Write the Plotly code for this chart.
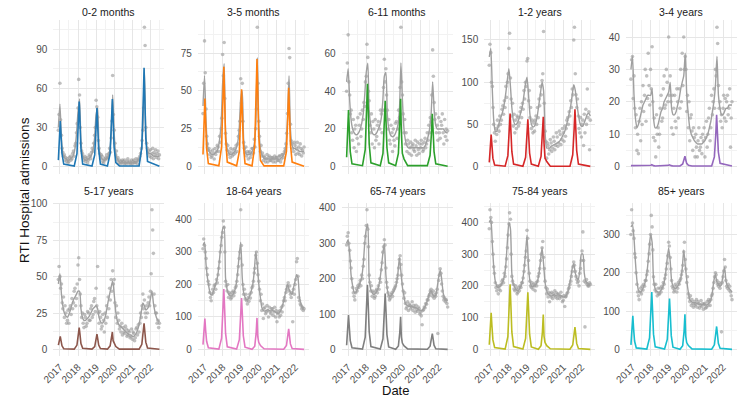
import pandas as pd
import plotly.graph_objects as go

PANELS = ["0-2 months", "3-5 months", "6-11 months", "1-2 years", "3-4 years",
          "5-17 years", "18-64 years", "65-74 years", "75-84 years", "85+ years"]
COLORS = ["#1f77b4", "#ff7f0e", "#2ca02c", "#d62728", "#9467bd",
          "#8c564b", "#e377c2", "#7f7f7f", "#bcbd22", "#17becf"]
YTICKS = [[0, 30, 60, 90], [0, 25, 50, 75], [0, 20, 40, 60], [0, 50, 100, 150], [0, 10, 20, 30, 40],
          [0, 25, 50, 75, 100], [0, 100, 200, 300, 400], [0, 100, 200, 300, 400],
          [0, 100, 200, 300, 400], [0, 100, 200, 300]]
YEAR_TICKS = ["2017-01-01", "2018-01-01", "2019-01-01", "2020-01-01", "2021-01-01", "2022-01-01"]
YEAR_LABELS = ["2017", "2018", "2019", "2020", "2021", "2022"]

# time grids
LINE_DATES = list(pd.date_range("2016-12-01", "2022-07-01", freq="MS"))          # monthly fit
OBS_DATES = sorted(LINE_DATES + [d + pd.Timedelta(days=14) for d in LINE_DATES[:-1]])  # twice-monthly obs
RSV_DATES = ["2016-12-01", "2016-12-22", "2017-01-08", "2017-01-23", "2017-02-12", "2017-03-19",
             "2017-10-17", "2017-12-11", "2018-01-08", "2018-01-25", "2018-02-09", "2018-03-01", "2018-04-05",
             "2018-10-10", "2018-12-04", "2019-01-01", "2019-01-18", "2019-02-02", "2019-02-22", "2019-03-29",
             "2019-08-17", "2019-10-11", "2019-11-08", "2019-11-25", "2019-12-10", "2019-12-30", "2020-02-03", "2020-04-15",
             "2021-05-17", "2021-07-11", "2021-08-08", "2021-08-25", "2021-09-09", "2021-09-29", "2021-11-03",
             "2022-07-01"]

# ---- 0-2 months
obs_0_2m = [28,40, 64,36, 24,14, 11,8, 9,5, 7,4, 6,3, 4,7, 8,5, 6,10, 12,8, 16,18, 26,33,
            45,67, 55,30, 18,12, 10,7, 5,8, 4,6, 7,3, 5,9, 8,6, 11,14, 12,18, 24,30,
            51,46, 38,20, 14,10, 6,9, 8,4, 3,6, 5,7, 9,6, 7,10, 14,11, 22,35, 70,40,
            28,18, 9,12, 5,7, 3,5, 2,4, 3,5, 4,2, 5,3, 2,4, 6,3, 4,2, 3,5,
            2,4, 5,3, 3,6, 4,2, 6,5, 8,10, 14,20, 28,45, 107,93, 30,18, 14,10, 12,8,
            13,7, 10,14, 6,11, 9,13, 7,10, 12,6, 9]
fit_0_2m = [30, 48,22,10,7,6,5,5,6,7,9,14,25, 42,52,20,9,6,5,5,6,7,9,13,22,
            40,45,15,8,6,5,5,6,8,12,25,55, 25,10,6,4,3,3,3,3,3,3,3,3,
            3,3,3,4,5,7,12,30,75,25,12,10, 10,9,8,8,8,8,8]
rsv_0_2m = [5,22,35,24,10,2, 0.5,10,33,50,35,14,2, 0.5,9,30,45,31,13,2,
            0.5,10,34,52,36,15,3,0.5, 0.5,15,50,76,53,22,4, 0.3]

# ---- 3-5 months
obs_3_5m = [35,55, 83,62, 38,20, 15,11, 12,8, 10,6, 7,11, 9,5, 12,8, 10,14, 13,10, 20,16, 25,32,
            74,60, 82,45, 22,15, 11,14, 8,10, 6,12, 9,7, 11,8, 12,9, 14,10, 15,20, 24,30,
            58,42, 55,30, 16,12, 9,13, 7,10, 5,9, 10,6, 8,12, 12,9, 18,13, 25,38, 92,55,
            30,20, 10,14, 7,9, 4,7, 6,3, 5,8, 3,6, 7,4, 4,6, 6,3, 5,7, 3,6,
            6,4, 4,7, 7,3, 5,8, 8,6, 10,12, 15,22, 35,55, 78,72, 28,17, 15,12, 10,16,
            14,8, 12,16, 9,13, 8,15, 12,7, 11,9, 13]
fit_3_5m = [40, 60,30,14,10,9,8,8,9,10,12,18,28, 55,68,24,12,9,8,8,9,10,12,16,25,
            45,50,18,10,8,8,8,9,11,15,28,72, 28,12,8,6,5,5,5,5,5,5,5,5,
            5,5,5,6,7,9,14,32,60,24,14,12, 12,11,11,10,10,10,10]
rsv_3_5m = [8,30,45,30,12,2, 0.5,13,43,66,46,19,3, 0.5,10,33,51,36,15,2,
            0.5,14,46,71,50,20,4,0.5, 0.5,10,34,52,36,15,3, 0.3]

# ---- 6-11 months
obs_6_11m = [40,55, 70,45, 38,28, 30,18, 14,25, 10,20, 22,8, 15,26, 12,22, 28,16, 20,30, 25,34, 32,45,
             48,65, 58,40, 35,22, 18,28, 12,24, 20,10, 25,14, 16,22, 24,12, 20,30, 28,18, 30,42,
             57,45, 52,38, 30,20, 25,14, 12,22, 18,8, 20,14, 11,23, 24,15, 20,30, 26,42, 74,45,
             38,28, 18,25, 12,18, 8,14, 12,7, 10,13, 6,11, 12,9, 8,14, 11,6, 13,9, 7,12,
             10,14, 12,8, 9,13, 15,10, 12,18, 14,22, 18,26, 24,38, 62,48, 34,25, 28,18, 22,14,
             26,18, 15,24, 22,28, 18,12, 25,16, 20,14, 19]
fit_6_11m = [45, 52,35,25,20,18,17,17,18,20,23,28,38, 50,55,30,22,18,17,17,18,20,22,26,35,
             48,50,28,20,17,16,16,17,19,22,30,55, 35,20,14,11,10,10,10,10,10,10,10,10,
             10,10,10,11,13,16,20,28,45,30,22,20, 20,20,20,20,19,18,18]
rsv_6_11m = [5,20,30,20,8,1.5, 0.5,9,29,44,31,12,2, 0.5,7,23,35,25,10,2,
             0.5,7,23,36,18,7,4,0.5, 0.5,6,18,28,20,8,1.5, 0.2]

# ---- 1-2 years
obs_1_2y = [120,145, 135,100, 95,70, 50,40, 30,45, 38,55, 48,42, 60,50, 55,68, 72,62, 78,70, 95,82, 100,110,
            140,158, 105,80, 60,75, 48,62, 40,55, 45,60, 58,48, 52,65, 70,58, 75,68, 90,80, 100,95,
            125,128, 78,90, 58,70, 45,55, 40,52, 42,55, 60,50, 70,58, 80,72, 95,85, 102,110, 160,75,
            42,30, 10,28, 25,15, 20,32, 28,18, 22,35, 30,20, 25,40, 35,24, 28,42, 38,26, 32,45,
            40,30, 48,36, 45,55, 58,50, 65,60, 78,70, 92,85, 150,165, 110,85, 70,80, 60,45, 40,58,
            35,50, 55,25, 62,40, 68,50, 92,58, 65,20, 55]
fit_1_2y = [130, 140,90,55,42,42,48,55,60,66,75,88,103, 116,95,70,55,50,50,53,58,65,72,85,98,
            106,85,62,50,47,48,53,62,75,88,100,90, 40,22,22,22,24,25,26,27,28,29,31,34,
            38,42,48,55,63,72,85,97,90,75,62,52, 48,48,52,57,62,63,60]
rsv_1_2y = [5,25,38,26,10,2, 0.5,13,41,63,44,18,3, 0.5,11,36,56,39,16,3,
            0.5,12,38,59,28,10,6,0.5, 0.5,14,44,68,48,19,3, 0.3]

# ---- 3-4 years
obs_3_4y = [27,33, 34,21, 28,18, 12,16, 5,10, 4,14, 18,8, 20,13, 25,17, 22,30, 14,28, 21,35, 25,19,
            30,24, 37,20, 9,15, 8,3, 16,10, 12,6, 10,18, 22,14, 15,24, 28,18, 19,30, 26,20,
            40,22, 28,20, 12,22, 10,18, 22,14, 12,24, 20,15, 24,18, 30,20, 35,25, 40,30, 34,30,
            17,22, 12,20, 8,15, 16,11, 5,12, 9,3, 10,6, 3,8, 12,5, 6,9, 4,10, 8,12,
            3,9, 14,6, 10,15, 18,8, 12,22, 16,20, 24,18, 30,28, 43,38, 25,18, 20,14, 16,12,
            18,22, 15,21, 14,20, 22,16, 18,24, 6,15, 20]
fit_3_4y = [30, 34,22,15,12,13,15,17,19,20,21,22,22, 22,24,15,12,12,13,15,17,18,20,21,22,
            23,26,18,16,16,17,19,21,24,26,28,35, 22,16,12,10,9,8,7.5,7,7,7,7,7.5,
            8,9,10,12,14,17,20,25,34,22,18,16, 16,17,18,18,19,19,19]
rsv_3_4y = [0.3,0.3,0.35,0.3,0.25,0.2, 0.2,0.3,0.4,0.6,0.45,0.3,0.2, 0.2,0.3,0.4,0.55,0.4,0.3,0.2,
            0.2,0.8,2.0,3.2,2.2,1.0,0.4,0.2, 0.2,3,10,16,11,4.5,1, 0.2]

# ---- 5-17 years
obs_5_17y = [48,57, 50,42, 45,32, 28,36, 22,30, 25,18, 20,27, 18,28, 30,24, 35,28, 32,40, 42,30, 35,45,
             58,63, 48,38, 30,22, 25,18, 15,24, 22,16, 18,26, 25,20, 20,28, 30,22, 24,33, 35,26,
             42,30, 57,25, 18,26, 22,14, 16,24, 20,12, 25,18, 30,22, 36,28, 42,34, 48,40, 54,45,
             48,32, 22,30, 18,25, 20,14, 16,12, 18,10, 15,12, 11,16, 14,9, 10,13, 12,8, 9,14,
             7,12, 11,6, 8,14, 15,10, 17,12, 18,25, 22,30, 38,28, 34,25, 22,30, 25,32, 36,30,
             40,52, 96,82, 66,38, 30,25, 25,18, 20,15, 18]
fit_5_17y = [45, 52,38,30,25,23,22,24,27,31,34,36,38, 40,40,28,22,20,20,21,22,24,26,28,29,
             30,28,22,19,18,19,22,27,33,38,43,47, 38,26,20,17,16,15,14,13,12,11,10,10,
             9,9,10,12,15,20,26,32,30,27,28,30, 35,40,32,26,22,20,19]
rsv_5_17y = [3,6,9,6,2.5,0.5, 0.2,3,10,15,10.5,4,0.8, 0.2,2,7,10.5,7.5,3,0.6,
             0.2,2.5,8,12,6,4,2,0.2, 0.2,3.5,12,18,12.5,5,1, 0.1]

# ---- 18-64 years
obs_18_64y = [310,340, 320,300, 280,250, 230,210, 200,175, 160,150, 170,185, 175,195, 200,185, 215,205, 230,250, 270,300, 320,345,
              360,395, 375,300, 210,195, 180,200, 160,175, 170,155, 160,175, 180,165, 175,190, 195,210, 230,255, 280,300,
              430,320, 260,200, 170,185, 155,170, 150,140, 160,148, 170,158, 175,190, 195,210, 235,250, 290,300, 265,230,
              210,185, 150,170, 120,140, 95,125, 130,110, 115,135, 120,100, 130,115, 110,125, 125,105, 115,130, 100,120,
              85,110, 115,100, 120,105, 130,115, 135,150, 160,150, 175,185, 195,205, 180,195, 170,160, 175,85, 185,170,
              200,215, 270,280, 225,160, 150,140, 135,125, 130,120, 125]
fit_18_64y = [320, 330,260,220,190,170,168,180,195,210,235,280,330, 370,380,220,185,170,165,165,170,180,200,240,290,
              330,220,175,160,152,155,165,180,200,240,300,260, 200,160,130,120,118,120,122,120,118,120,118,115,
              112,110,115,125,140,160,180,200,185,175,170,190, 210,230,220,160,140,130,128]
rsv_18_64y = [15,60,95,60,25,5, 1,35,120,186,130,50,8, 1,30,100,158,110,42,7,
              0.5,10,50,97,40,22,12,2, 0.5,12,40,63,44,17,3, 0.3]

# ---- 65-74 years
obs_65_74y = [295,320, 330,300, 280,250, 230,200, 175,160, 150,140, 160,172, 165,180, 175,185, 195,180, 210,200, 235,255, 300,320,
              350,395, 340,290, 210,190, 165,180, 150,165, 160,145, 150,165, 170,160, 180,170, 200,190, 225,245, 275,290,
              310,295, 230,190, 175,160, 150,140, 145,155, 160,150, 165,170, 175,180, 190,200, 210,230, 255,265, 240,210,
              185,165, 145,160, 130,115, 120,135, 110,128, 125,115, 120,135, 110,125, 118,105, 125,112, 108,120, 115,100,
              105,95, 70,110, 112,120, 118,130, 128,140, 140,150, 155,165, 170,160, 150,165, 145,155, 150,160, 170,45,
              195,210, 228,215, 185,165, 150,140, 145,135, 140,130, 120]
fit_65_74y = [300, 310,270,210,180,162,160,168,178,190,205,240,300, 340,355,200,170,160,155,158,165,175,195,230,270,
              300,210,170,152,150,155,162,172,185,215,260,220, 175,150,130,125,122,122,122,120,118,118,115,112,
              110,110,115,122,132,145,160,165,155,150,152,175, 205,225,200,160,145,140,138]
rsv_65_74y = [12,60,97,65,25,5, 1,35,118,183,128,50,8, 1,30,100,158,110,42,7,
              0.5,10,48,92,35,18,10,1.5, 0.5,9,29,45,31,12,2, 0.3]

# ---- 75-84 years
obs_75_84y = [380,440, 415,400, 340,300, 260,240, 210,195, 185,200, 175,190, 200,185, 205,215, 220,210, 240,230, 260,285, 320,360,
              395,430, 410,300, 230,215, 205,190, 185,200, 190,175, 180,195, 185,200, 195,210, 210,225, 245,265, 290,310,
              375,350, 280,240, 215,200, 195,210, 190,205, 200,185, 210,200, 215,230, 240,255, 280,300, 320,340, 290,255,
              215,195, 175,190, 165,180, 150,175, 165,180, 160,175, 170,185, 165,178, 160,175, 172,160, 168,180, 165,150,
              155,170, 135,165, 168,175, 180,190, 195,205, 215,230, 245,260, 275,265, 245,230, 220,210, 215,200, 240,255,
              280,310, 370,280, 215,71, 210,220, 205,200, 200,210, 205]
fit_75_84y = [400, 410,330,260,215,200,195,198,205,215,230,270,340, 400,380,240,205,195,188,185,190,200,215,250,300,
              360,260,215,200,198,200,205,215,240,280,320,270, 210,185,175,170,168,170,172,170,168,168,170,168,
              165,165,170,180,200,225,255,270,240,225,220,250, 300,300,240,215,210,205,205]
rsv_75_84y = [15,70,115,75,30,6, 1,40,132,205,143,55,9, 1,35,115,180,126,48,8,
              0.5,12,55,110,42,22,12,2, 0.5,14,45,70,49,19,3, 0.3]

# ---- 85+ years
obs_85y = [300,365, 330,310, 290,250, 240,200, 170,150, 140,130, 150,160, 145,165, 155,170, 165,180, 180,195, 205,230, 250,275,
           300,350, 320,260, 190,170, 155,170, 150,140, 160,145, 145,160, 150,165, 160,175, 170,185, 195,210, 225,245,
           280,270, 240,210, 180,165, 160,150, 155,170, 165,150, 160,175, 170,180, 185,195, 205,220, 255,280, 235,210,
           175,190, 145,135, 125,140, 115,130, 120,110, 125,115, 118,130, 110,125, 120,108, 115,128, 112,120, 105,118,
           120,108, 110,125, 115,130, 125,115, 130,140, 145,160, 175,190, 200,195, 180,170, 165,175, 160,170, 46,175,
           190,205, 235,215, 180,165, 160,170, 155,165, 150,140, 130]
fit_85y = [320, 325,290,230,180,155,150,152,160,170,185,215,260, 300,280,185,160,152,150,150,155,162,175,200,235,
           265,230,180,165,160,160,165,172,185,210,260,220, 180,150,130,125,122,122,122,120,118,118,117,117,
           116,116,118,122,130,150,180,195,175,170,165,170, 195,215,180,165,160,155,150]
rsv_85y = [12,55,88,55,22,4, 1,30,97,150,105,40,7, 1,26,86,133,93,36,6,
           0.5,10,48,92,35,18,10,1.5, 0.5,12,39,60,42,16,3, 0.3]

OBS = [obs_0_2m, obs_3_5m, obs_6_11m, obs_1_2y, obs_3_4y, obs_5_17y, obs_18_64y, obs_65_74y, obs_75_84y, obs_85y]
FIT = [fit_0_2m, fit_3_5m, fit_6_11m, fit_1_2y, fit_3_4y, fit_5_17y, fit_18_64y, fit_65_74y, fit_75_84y, fit_85y]
RSV = [rsv_0_2m, rsv_3_5m, rsv_6_11m, rsv_1_2y, rsv_3_4y, rsv_5_17y, rsv_18_64y, rsv_65_74y, rsv_75_84y, rsv_85y]

for i in range(10):
    assert len(OBS[i]) == len(OBS_DATES), (i, len(OBS[i]), len(OBS_DATES))
    assert len(FIT[i]) == len(LINE_DATES), (i, len(FIT[i]))
    assert len(RSV[i]) == len(RSV_DATES), (i, len(RSV[i]))

# ---- layout geometry (pixels)
W, H = 740, 399
X0 = [42, 189, 335, 480, 624]
PW = 113
ROW_TOP = [16.5, 200.7]
ROW_BOT = [171.3, 356.0]
TITLE_Y = [8, 189]
XRANGE = ["2016-08-21", "2022-10-11"]
MINOR_X = ["2017-07-01", "2018-07-01", "2019-07-01", "2020-07-01", "2021-07-01", "2022-07-01"]
TICK_FONT = dict(family="Liberation Sans, Arial, sans-serif", size=10, color="#4d4d4d")

fig = go.Figure()
annotations = []
for i in range(10):
    r, c = divmod(i, 5)
    n = i + 1
    xa = "x" if n == 1 else f"x{n}"
    ya = "y" if n == 1 else f"y{n}"
    fig.add_trace(go.Scatter(x=OBS_DATES, y=OBS[i], mode="markers",
                             marker=dict(size=3.6, color="rgba(150,150,150,0.6)", line=dict(width=0)),
                             xaxis=xa, yaxis=ya, showlegend=False, hoverinfo="skip"))
    fig.add_trace(go.Scatter(x=LINE_DATES, y=FIT[i], mode="lines",
                             line=dict(color="#a0a0a0", width=1.4, shape="spline", smoothing=0.6),
                             xaxis=xa, yaxis=ya, showlegend=False, hoverinfo="skip"))
    fig.add_trace(go.Scatter(x=RSV_DATES, y=RSV[i], mode="lines",
                             line=dict(color=COLORS[i], width=1.6),
                             xaxis=xa, yaxis=ya, showlegend=False, hoverinfo="skip"))
    top = max(max(OBS[i]), max(FIT[i]), max(RSV[i]))
    ystep = YTICKS[i][1] - YTICKS[i][0]
    fig.layout[f"xaxis{'' if n == 1 else n}"] = dict(
        domain=[X0[c] / W, (X0[c] + PW) / W], anchor=ya, type="date", range=XRANGE,
        tickmode="array", tickvals=YEAR_TICKS, ticktext=YEAR_LABELS,
        showticklabels=(r == 1), tickangle=-45, tickfont=TICK_FONT, ticks="",
        ticklabelstandoff=2,
        showgrid=True, gridcolor="#e6e6e6", gridwidth=1, zeroline=False, showline=False,
        minor=dict(tickmode="array", tickvals=MINOR_X, showgrid=True, gridcolor="#f2f2f2", gridwidth=0.6),
        fixedrange=True)
    fig.layout[f"yaxis{'' if n == 1 else n}"] = dict(
        domain=[1 - ROW_BOT[r] / H, 1 - ROW_TOP[r] / H], anchor=xa,
        range=[-0.05 * top, 1.05 * top], tickmode="array", tickvals=YTICKS[i],
        tickfont=TICK_FONT, ticks="", ticklabelstandoff=5,
        showgrid=True, gridcolor="#e6e6e6", gridwidth=1,
        zeroline=False, showline=False,
        minor=dict(dtick=ystep / 2, tick0=0, showgrid=True, gridcolor="#f2f2f2", gridwidth=0.6),
        fixedrange=True)
    annotations.append(dict(text=PANELS[i], x=(X0[c] + PW / 2) / W, y=1 - TITLE_Y[r] / H,
                            xref="paper", yref="paper", showarrow=False,
                            xanchor="center", yanchor="middle",
                            font=dict(family="Liberation Sans, Arial, sans-serif", size=10.5, color="#1a1a1a")))

annotations.append(dict(text="RTI Hospital admissions", x=12 / W, y=1 - 188 / H, xref="paper", yref="paper",
                        showarrow=False, textangle=-90, xanchor="center", yanchor="middle",
                        font=dict(family="Liberation Sans, Arial, sans-serif", size=13.5, color="#111111")))
annotations.append(dict(text="Date", x=390 / W, y=1 - 390 / H, xref="paper", yref="paper",
                        showarrow=False, xanchor="center", yanchor="middle",
                        font=dict(family="Liberation Sans, Arial, sans-serif", size=13, color="#111111")))

fig.update_layout(width=W, height=H, margin=dict(l=0, r=0, t=0, b=0),
                  paper_bgcolor="white", plot_bgcolor="white",
                  annotations=annotations, showlegend=False)
fig.write_html("out.html", config={"displayModeBar": False},
               post_script="document.body.style.margin='0px';document.body.style.overflow='hidden';")
